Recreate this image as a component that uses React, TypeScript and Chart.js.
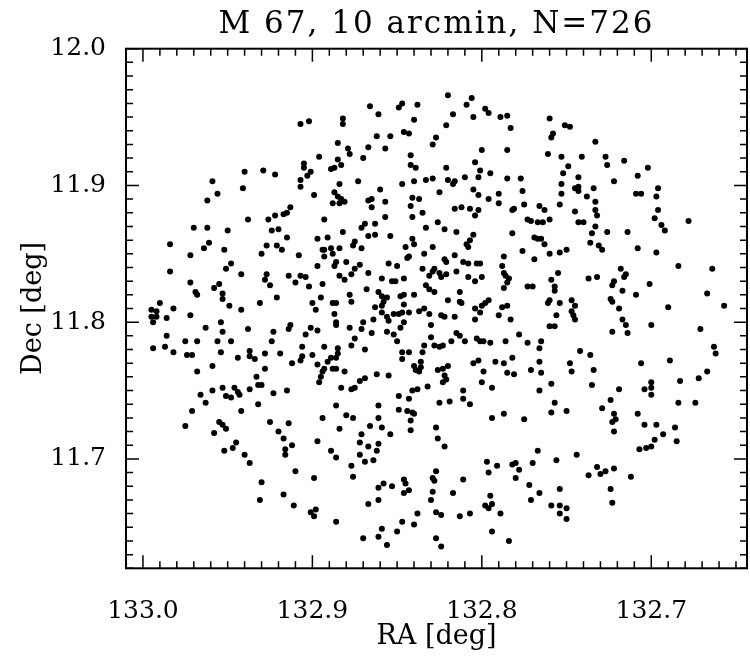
import React, { useEffect, useRef } from "react";
import { Chart, registerables } from "chart.js";

Chart.register(...registerables);

const TITLE = "M 67, 10 arcmin, N=726";
const X_LABEL = "RA [deg]";
const Y_LABEL = "Dec [deg]";
const RA_MIN = 132.6435;
const RA_MAX = 133.01;
const DEC_MIN = 11.62;
const DEC_MAX = 12.0;
const MAJOR_STEP = 0.1;

const RA_DEG = [
  132.907,132.902,132.896,132.905,132.905,132.940,132.929,132.922,132.959,132.941,132.956,132.962,132.907,132.907,132.903,132.901,132.899,132.922,132.917,132.915,132.913,
  132.820,132.806,132.809,132.798,132.796,132.866,132.861,132.849,132.847,132.838,132.840,132.817,132.805,132.789,132.785,132.783,132.821,132.882,132.882,132.862,
  132.854,132.846,132.843,132.827,132.829,132.885,132.879,132.878,132.867,132.857,132.870,132.800,132.785,132.842,132.885,132.883,132.889,132.887,132.842,132.839,
  132.821,132.804,132.801,132.795,132.884,132.873,132.847,132.840,132.833,132.829,132.820,132.817,132.816,132.810,132.802,132.785,132.777,132.825,132.805,132.802,
  132.790,132.776,132.860,132.887,132.885,132.883,132.881,132.884,132.888,132.867,132.865,132.865,132.857,132.842,132.841,132.837,132.835,132.857,132.841,132.816,
  132.812,132.807,132.802,132.804,132.796,132.790,132.781,132.782,
  132.760,132.751,132.748,132.758,132.759,132.733,132.761,132.753,132.741,132.727,132.726,132.716,132.749,132.702,132.752,132.743,132.708,132.722,132.753,132.745,
  132.743,132.743,132.734,132.753,132.738,132.709,132.706,132.696,132.697,132.733,132.775,132.766,132.763,132.754,132.745,132.733,132.732,132.696,
  132.938,132.926,132.893,132.970,132.962,132.950,132.924,132.920,132.915,132.897,132.984,132.961,132.964,132.952,132.927,132.921,132.918,132.930,132.908,132.894,
  132.893,132.972,132.984,132.951,132.948,132.942,132.927,132.928,132.925,132.914,132.907,132.904,132.910,132.902,132.897,132.894,132.972,132.958,132.955,132.969,
  132.968,132.953,132.953,132.931,132.921,132.895,132.900,132.898,132.990,132.995,132.992,132.995,132.992,132.994,132.982,132.986,132.972,132.949,132.942,132.954,
  132.963,132.953,132.938,132.923,132.913,132.914,132.901,132.897,132.904,132.986,132.975,132.968,132.956,132.948,132.924,132.994,132.987,132.982,132.974,132.971,
  132.954,132.944,132.937,132.937,132.934,132.928,132.919,132.906,132.906,132.907,132.900,132.912,132.897,132.968,132.959,132.928,132.933,132.895,132.896,132.894,
  132.932,132.930,132.953,132.946,132.944,132.937,132.915,132.959,
  132.869,132.871,132.863,132.826,132.882,132.891,132.867,132.863,132.854,132.833,132.822,132.815,132.805,132.807,132.809,132.808,132.782,132.776,132.875,132.876,
  132.871,132.893,132.889,132.888,132.884,132.841,132.840,132.845,132.829,132.834,132.844,132.843,132.822,132.821,132.816,132.811,132.808,132.803,132.801,132.787,
  132.788,132.880,132.886,132.887,132.872,132.875,132.855,132.850,132.835,132.828,132.829,132.831,132.825,132.824,132.821,132.815,132.808,132.804,132.800,132.787,
  132.786,132.784,132.785,132.787,132.884,132.881,132.877,132.867,132.859,132.853,132.851,132.846,132.868,132.861,132.859,132.856,132.858,132.859,132.848,132.846,
  132.840,132.833,132.831,132.828,132.813,132.820,132.813,132.812,132.804,132.801,132.800,132.798,132.796,132.788,132.785,132.790,132.888,132.886,132.878,132.877,
  132.863,132.859,132.846,132.852,132.849,132.847,132.843,132.837,132.834,132.831,132.824,132.822,132.816,132.887,132.886,132.886,132.864,132.856,132.855,132.870,
  132.871,132.878,132.846,132.848,132.830,132.804,132.783,132.865,132.856,132.852,132.850,132.875,132.877,132.869,132.893,132.885,132.885,132.830,132.834,132.835,
  132.828,132.825,132.823,132.818,132.815,132.813,132.810,132.803,132.801,132.799,132.795,132.786,132.778,132.847,132.843,132.847,132.889,132.891,132.886,132.893,
  132.888,132.886,132.881,132.840,132.839,132.837,132.836,132.836,132.826,132.823,132.820,132.822,132.821,132.823,132.805,132.802,132.799,132.792,132.787,132.782,
  132.785,132.781,132.862,132.855,132.872,132.869,132.883,132.877,132.875,132.832,132.841,132.838,132.811,132.800,132.794,
  132.773,132.771,132.767,132.764,132.760,132.743,132.740,132.733,132.735,132.726,132.714,132.698,132.694,132.692,132.678,132.769,132.767,132.765,132.763,132.769,
  132.760,132.754,132.750,132.736,132.731,132.729,132.708,132.697,132.684,132.664,132.755,132.759,132.737,132.732,132.718,132.715,132.716,132.722,132.723,132.717,
  132.701,132.709,132.773,132.770,132.757,132.757,132.760,132.761,132.754,132.747,132.745,132.747,132.746,132.745,132.724,132.723,132.719,132.667,132.657,132.690,
  132.756,132.760,132.757,132.717,132.715,132.700,132.671,132.723,132.714,132.773,132.765,132.766,132.742,132.736,132.663,132.662,132.766,132.748,132.706,132.689,
  132.771,132.765,132.747,132.734,132.667,132.683,132.672,132.759,132.766,132.735,132.719,132.704,132.700,132.700,
  132.966,132.951,132.948,132.943,132.923,132.963,132.971,132.975,132.932,132.942,132.955,132.953,132.951,132.958,132.925,132.914,132.894,132.920,132.917,132.945,
  132.947,132.952,132.912,132.916,132.916,132.897,132.940,132.937,132.910,132.930,132.899,132.917,132.931,132.911,132.901,132.898,132.899,
  132.849,132.843,132.811,132.807,132.825,132.819,132.886,132.861,132.880,132.876,132.861,132.849,132.844,132.841,132.840,132.842,132.842,132.794,132.787,132.884,
  132.866,132.859,132.871,132.854,132.827,132.826,132.822,132.872,132.867,132.861,132.862,132.889,132.886,132.872,132.869,132.864,132.877,132.876,132.797,132.791,
  132.796,132.782,132.780,132.778,132.780,132.827,132.829,132.828,132.811,132.846,132.845,132.858,132.861,132.853,132.843,132.846,132.829,132.830,132.817,132.861,
  132.867,132.795,132.798,132.796,132.794,132.827,132.824,132.813,132.807,132.789,132.838,132.886,132.847,132.840,132.859,132.850,132.861,132.870,132.856,132.827,
  132.824,132.794,132.784,
  132.700,132.757,132.759,132.750,132.775,132.729,132.724,132.722,132.721,132.723,132.722,132.708,132.704,132.697,132.693,132.698,132.703,132.700,132.707,132.686,
  132.685,132.684,132.674,132.767,132.770,132.756,132.744,132.732,132.730,132.737,132.727,132.722,132.712,132.772,132.766,132.771,132.754,132.724,132.723,132.759,
  132.754,132.750,132.754,132.750,
];

const DEC_DEG = [
  11.945,11.947,11.921,11.916,11.913,11.910,11.911,11.908,11.903,11.898,11.894,11.889,11.904,11.899,11.907,11.910,11.893,11.878,11.879,11.880,11.884,
  11.966,11.964,11.959,11.956,11.953,11.958,11.952,11.957,11.960,11.959,11.948,11.952,11.950,11.950,11.951,11.942,11.944,11.949,11.945,11.936,
  11.936,11.939,11.938,11.935,11.930,11.931,11.927,11.923,11.928,11.927,11.920,11.926,11.926,11.922,11.919,11.915,11.912,11.913,11.915,11.913,
  11.913,11.917,11.911,11.909,11.901,11.903,11.901,11.903,11.904,11.905,11.904,11.901,11.903,11.906,11.906,11.905,11.905,11.895,11.897,11.893,
  11.894,11.896,11.897,11.895,11.892,11.890,11.888,11.887,11.887,11.889,11.890,11.884,11.888,11.885,11.891,11.890,11.880,11.877,11.877,11.883,
  11.884,11.883,11.882,11.878,11.890,11.887,11.883,11.882,
  11.949,11.944,11.943,11.938,11.935,11.932,11.923,11.921,11.921,11.921,11.915,11.918,11.914,11.913,11.909,11.906,11.907,11.903,11.901,11.898,
  11.899,11.896,11.898,11.894,11.892,11.894,11.894,11.898,11.892,11.888,11.886,11.885,11.882,11.886,11.881,11.882,11.878,11.882,
  11.875,11.875,11.875,11.869,11.869,11.867,11.867,11.868,11.862,11.861,11.857,11.858,11.854,11.853,11.856,11.856,11.853,11.850,11.849,11.853,
  11.848,11.849,11.837,11.839,11.843,11.835,11.835,11.831,11.827,11.834,11.834,11.833,11.829,11.826,11.841,11.828,11.829,11.825,11.828,11.822,
  11.820,11.821,11.817,11.814,11.818,11.818,11.814,11.809,11.814,11.809,11.808,11.804,11.804,11.800,11.810,11.803,11.805,11.812,11.809,11.800,
  11.796,11.793,11.795,11.793,11.798,11.795,11.796,11.794,11.791,11.790,11.786,11.786,11.786,11.786,11.786,11.781,11.782,11.778,11.776,11.776,
  11.778,11.774,11.779,11.775,11.773,11.777,11.777,11.782,11.775,11.772,11.776,11.770,11.769,11.764,11.768,11.766,11.760,11.760,11.756,11.764,
  11.754,11.754,11.752,11.752,11.749,11.751,11.750,11.750,
  11.872,11.869,11.872,11.873,11.866,11.862,11.863,11.864,11.863,11.869,11.868,11.866,11.864,11.860,11.857,11.855,11.865,11.852,11.859,11.856,
  11.854,11.853,11.854,11.850,11.854,11.861,11.857,11.855,11.855,11.850,11.847,11.848,11.846,11.844,11.849,11.844,11.843,11.843,11.843,11.848,
  11.841,11.844,11.844,11.841,11.842,11.839,11.843,11.841,11.839,11.839,11.837,11.834,11.836,11.833,11.835,11.837,11.833,11.830,11.833,11.836,
  11.834,11.832,11.829,11.825,11.834,11.831,11.835,11.836,11.832,11.830,11.830,11.832,11.824,11.822,11.819,11.818,11.815,11.812,11.819,11.820,
  11.820,11.827,11.824,11.822,11.822,11.816,11.815,11.814,11.810,11.807,11.812,11.814,11.816,11.811,11.812,11.805,11.814,11.814,11.820,11.815,
  11.811,11.807,11.813,11.806,11.806,11.807,11.807,11.808,11.810,11.806,11.805,11.804,11.804,11.806,11.800,11.798,11.802,11.804,11.801,11.800,
  11.795,11.796,11.800,11.796,11.798,11.802,11.802,11.792,11.793,11.791,11.786,11.788,11.783,11.780,11.782,11.781,11.777,11.789,11.783,11.778,
  11.783,11.782,11.783,11.786,11.792,11.790,11.786,11.788,11.786,11.786,11.785,11.786,11.791,11.778,11.778,11.773,11.774,11.771,11.774,11.766,
  11.766,11.766,11.764,11.768,11.765,11.764,11.771,11.767,11.765,11.766,11.768,11.761,11.758,11.756,11.770,11.772,11.764,11.771,11.770,11.774,
  11.763,11.762,11.762,11.761,11.757,11.759,11.752,11.751,11.752,11.753,11.750,11.751,11.750,11.756,11.752,
  11.875,11.874,11.873,11.873,11.875,11.873,11.873,11.870,11.865,11.866,11.866,11.876,11.871,11.867,11.874,11.862,11.861,11.861,11.857,11.846,
  11.850,11.851,11.853,11.858,11.856,11.853,11.854,11.851,11.841,11.839,11.836,11.831,11.832,11.833,11.839,11.835,11.833,11.830,11.827,11.823,
  11.828,11.820,11.826,11.826,11.826,11.823,11.816,11.814,11.814,11.816,11.812,11.808,11.805,11.802,11.817,11.815,11.810,11.821,11.812,11.811,
  11.805,11.797,11.797,11.802,11.798,11.798,11.795,11.793,11.792,11.785,11.786,11.781,11.779,11.776,11.782,11.777,11.771,11.770,11.770,11.772,
  11.765,11.763,11.764,11.765,11.764,11.757,11.759,11.755,11.750,11.754,11.751,11.751,11.756,11.752,
  11.747,11.746,11.745,11.747,11.748,11.741,11.735,11.724,11.740,11.735,11.727,11.725,11.722,11.719,11.727,11.726,11.730,11.720,11.715,11.712,
  11.708,11.706,11.710,11.707,11.703,11.713,11.703,11.697,11.691,11.683,11.686,11.674,11.670,11.666,11.661,11.663,11.658,
  11.746,11.744,11.744,11.740,11.741,11.742,11.739,11.739,11.732,11.730,11.730,11.736,11.735,11.734,11.733,11.728,11.721,11.730,11.733,11.722,
  11.724,11.723,11.718,11.718,11.723,11.715,11.709,11.712,11.709,11.711,11.706,11.706,11.701,11.703,11.698,11.699,11.695,11.687,11.698,11.695,
  11.690,11.696,11.697,11.692,11.686,11.691,11.686,11.684,11.685,11.685,11.682,11.682,11.679,11.680,11.677,11.675,11.676,11.670,11.675,11.670,
  11.667,11.673,11.666,11.664,11.667,11.661,11.659,11.658,11.660,11.660,11.660,11.654,11.654,11.652,11.649,11.647,11.643,11.642,11.637,11.642,
  11.636,11.647,11.640,
  11.747,11.741,11.734,11.735,11.729,11.737,11.743,11.733,11.729,11.727,11.720,11.733,11.725,11.725,11.718,11.714,11.708,11.709,11.707,11.723,
  11.713,11.741,11.741,11.706,11.697,11.699,11.703,11.694,11.689,11.688,11.691,11.693,11.687,11.681,11.675,11.670,11.678,11.678,11.668,11.666,
  11.666,11.664,11.660,11.656,
];

const FONT = "'DejaVu Serif', serif";
const TITLE_LETTER_SPACING = "2px";

const titleSpacing = {
  id: "titleSpacing",
  beforeDraw(chart: any) {
    const tb = chart.titleBlock;
    if (tb && !tb.__spaced) {
      const orig = tb.draw.bind(tb);
      tb.draw = (area: any) => {
        const ctx = chart.ctx;
        ctx.save();
        (ctx as any).letterSpacing = TITLE_LETTER_SPACING;
        orig(area);
        ctx.restore();
      };
      tb.__spaced = true;
    }
  },
};

const frameTicks = {
  id: "frameTicks",
  afterDatasetsDraw(chart: any) {
    const { ctx, chartArea, scales } = chart;
    const { left, right, top, bottom } = chartArea;
    const xs = scales.x;
    const ys = scales.y;
    ctx.save();
    ctx.strokeStyle = "#000";
    ctx.lineWidth = 1.5;
    ctx.beginPath();
    for (let i = Math.ceil(xs.min * 100 - 1e-6); i <= Math.floor(xs.max * 100 + 1e-6); i++) {
      const px = xs.getPixelForValue(i / 100);
      const len = i % 10 === 0 ? 13 : 7;
      ctx.moveTo(px, bottom);
      ctx.lineTo(px, bottom - len);
      ctx.moveTo(px, top);
      ctx.lineTo(px, top + len);
    }
    for (let i = Math.ceil(ys.min * 100 - 1e-6); i <= Math.floor(ys.max * 100 + 1e-6); i++) {
      const py = ys.getPixelForValue(i / 100);
      const len = i % 10 === 0 ? 13 : 7;
      ctx.moveTo(left, py);
      ctx.lineTo(left + len, py);
      ctx.moveTo(right, py);
      ctx.lineTo(right - len, py);
    }
    ctx.stroke();
    ctx.lineWidth = 2;
    ctx.strokeRect(left, top, right - left, bottom - top);
    ctx.restore();
  },
};

export default function App() {
  const ref = useRef<HTMLCanvasElement>(null);
  useEffect(() => {
    const points = RA_DEG.map((x, i) => ({ x, y: DEC_DEG[i] }));
    const chart = new Chart(ref.current as HTMLCanvasElement, {
      type: "scatter",
      data: {
        datasets: [
          {
            data: points,
            pointRadius: 3,
            pointHoverRadius: 3,
            backgroundColor: "#000",
            borderColor: "#000",
            borderWidth: 0,
          },
        ],
      },
      options: {
        responsive: false,
        animation: false,
        events: [],
        layout: { padding: { left: 0, right: 1, top: 0, bottom: 0 } },
        plugins: {
          legend: { display: false },
          tooltip: { enabled: false },
          title: {
            display: true,
            text: TITLE,
            color: "#000",
            fullSize: false,
            font: { family: FONT, size: 31, weight: "normal", lineHeight: 1.2 },
            padding: { top: 6, bottom: 5.5 },
          },
        },
        scales: {
          x: {
            type: "linear",
            reverse: true,
            min: RA_MIN,
            max: RA_MAX,
            grid: { display: false },
            border: { display: false },
            ticks: {
              stepSize: MAJOR_STEP,
              includeBounds: false,
              autoSkip: false,
              maxRotation: 0,
              padding: 20,
              color: "#000",
              font: { family: FONT, size: 25 },
              callback: (v: any) => Number(v).toFixed(1),
            },
            title: {
              display: true,
              text: X_LABEL,
              color: "#000",
              font: { family: FONT, size: 27, lineHeight: 1.2 },
              padding: { top: 0, bottom: 7 },
            },
            afterFit: (s: any) => {
              s.height = 91.7;
            },
          },
          y: {
            type: "linear",
            min: DEC_MIN,
            max: DEC_MAX,
            grid: { display: false },
            border: { display: false },
            ticks: {
              stepSize: MAJOR_STEP,
              includeBounds: false,
              autoSkip: false,
              padding: 12,
              color: "#000",
              font: { family: FONT, size: 25 },
              callback: (v: any) => Number(v).toFixed(1),
            },
            title: {
              display: true,
              text: Y_LABEL,
              color: "#000",
              font: { family: FONT, size: 27, lineHeight: 1.2 },
              padding: { top: 18, bottom: 0 },
            },
            afterFit: (s: any) => {
              s.width = 126;
            },
          },
        },
      },
      plugins: [titleSpacing, frameTicks],
    } as any);
    return () => chart.destroy();
  }, []);
  return (
    <div style={{ position: "absolute", left: 0, top: 0, width: 750, height: 660, background: "#fff" }}>
      <canvas ref={ref} width={750} height={660} style={{ display: "block" }} />
    </div>
  );
}
